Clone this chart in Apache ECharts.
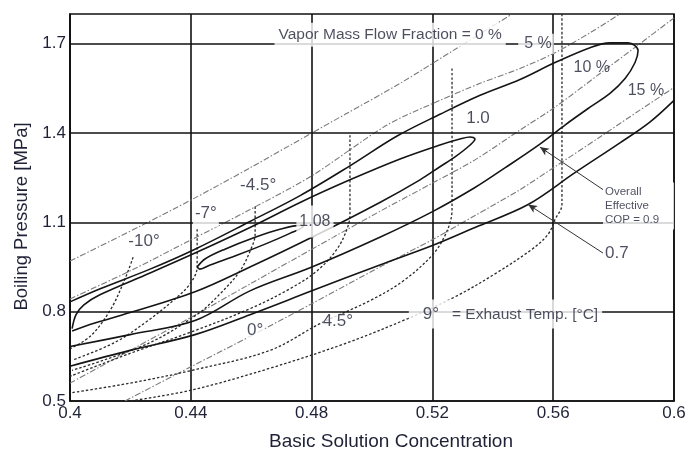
<!DOCTYPE html>
<html><head><meta charset="utf-8">
<script src="https://cdn.jsdelivr.net/npm/echarts@6/dist/echarts.min.js"></script>
<style>html,body{margin:0;padding:0;background:#fff}#c{width:690px;height:456px}</style>
</head><body><div id="c"></div>
<script>
// ---- axis ticks ----
const xTickValues = [0.4, 0.44, 0.48, 0.52, 0.56, 0.6];
const yTickValues = [0.5, 0.8, 1.1, 1.4, 1.7];

// ---- Overall Effective COP contours (solid) [concentration, pressure MPa] ----
const cop108 = [[0.4421,0.95],[0.4447,0.977],[0.4513,1.01],[0.4613,1.05],[0.4695,1.077],[0.4762,1.09],[0.4772,1.087],
  [0.4728,1.063],[0.4646,1.027],[0.4546,0.987],[0.4464,0.957],[0.443,0.943],[0.4421,0.95]];
const cop100 = [[0.4007,0.743],[0.402,0.79],[0.4046,0.823],[0.4099,0.857],[0.4265,0.93],[0.4414,0.997],[0.4596,1.083],
  [0.4762,1.167],[0.4927,1.243],[0.5093,1.313],[0.5225,1.36],[0.5291,1.38],[0.5325,1.387],[0.5341,1.38],
  [0.5325,1.36],[0.5275,1.32],[0.5225,1.287],[0.5159,1.243],[0.5026,1.167],[0.4801,1.05],[0.4596,0.95],
  [0.4414,0.867],[0.4199,0.797],[0.4066,0.757],[0.4007,0.735]];
const cop090 = [[0.400,0.833],[0.410,0.877],[0.4265,0.943],[0.4414,1.010],[0.4596,1.103],[0.4762,1.190],[0.4927,1.290],
  [0.5083,1.390],[0.5225,1.463],[0.5358,1.527],[0.549,1.580],[0.5606,1.637],[0.5722,1.687],[0.5788,1.703],
  [0.5848,1.703],[0.5881,1.677],[0.5871,1.637],[0.5838,1.583],[0.5788,1.533],[0.5722,1.487],[0.5639,1.427],
  [0.5556,1.363],[0.544,1.283],[0.5341,1.217],[0.5202,1.137],[0.5026,1.050],[0.4801,0.950],[0.4596,0.870],
  [0.4414,0.770],[0.4199,0.723],[0.400,0.683]];
const cop070 = [[0.400,0.617],[0.4199,0.67],[0.4414,0.723],[0.4596,0.79],[0.4801,0.87],[0.5026,0.957],[0.5202,1.023],
  [0.5341,1.083],[0.5517,1.16],[0.5672,1.267],[0.5821,1.367],[0.592,1.437],[0.600,1.51]];

// ---- Vapor mass flow fraction lines (dash-dot) ----
const vap0 = [[0.4,0.97],[0.4232,1.087],[0.4404,1.177],[0.4596,1.283],[0.4795,1.397],[0.4911,1.463],[0.5093,1.567],
  [0.5268,1.677],[0.5358,1.733],[0.5464,1.8]];
const vap5 = [[0.4,0.843],[0.4199,0.937],[0.4404,1.043],[0.4596,1.143],[0.4801,1.257],[0.505,1.427],[0.5225,1.51],
  [0.5358,1.567],[0.549,1.617],[0.5606,1.67],[0.5722,1.737],[0.5821,1.8]];
const vap10 = [[0.4,0.56],[0.4199,0.67],[0.4404,0.783],[0.4596,0.893],[0.4801,1.01],[0.5026,1.137],[0.5202,1.233],
  [0.5341,1.31],[0.549,1.41],[0.5606,1.487],[0.5755,1.6],[0.5887,1.7],[0.6,1.787]];
const vap15 = [[0.4182,0.5],[0.4404,0.617],[0.4596,0.717],[0.4801,0.827],[0.5026,0.95],[0.5202,1.043],[0.5341,1.123],
  [0.549,1.21],[0.5606,1.287],[0.5755,1.387],[0.5887,1.477],[0.6,1.553]];

// ---- Exhaust temperature lines (dotted) ----
const tm10 = [[0.4209,0.983],[0.4182,0.91],[0.4136,0.81],[0.407,0.72],[0.4003,0.677]];
const tm7 = [[0.4421,1.077],[0.4421,0.95],[0.4397,0.893],[0.4348,0.843],[0.4258,0.77],[0.4149,0.697],[0.4007,0.637]];
const tm45 = [[0.4613,1.153],[0.4613,1.06],[0.4596,1.003],[0.4563,0.937],[0.4497,0.86],[0.4424,0.793],[0.4258,0.693],[0.4007,0.603]];
const t0 = [[0.4927,1.393],[0.4927,1.127],[0.4917,1.077],[0.4884,1.01],[0.4818,0.937],[0.4728,0.877],[0.4596,0.81],
  [0.4404,0.733],[0.4199,0.66],[0.4,0.583]];
const t45 = [[0.5265,1.617],[0.5265,1.143],[0.5248,1.07],[0.5202,0.993],[0.5103,0.903],[0.4993,0.837],[0.4828,0.76],
  [0.4662,0.67],[0.4404,0.603],[0.4199,0.56],[0.4,0.527]];
const t9 = [[0.5629,1.8],[0.5629,1.16],[0.5606,1.11],[0.5583,1.06],[0.553,1.01],[0.5407,0.927],[0.5275,0.85],
  [0.5119,0.777],[0.4911,0.693],[0.4662,0.61],[0.4404,0.537],[0.4199,0.5]];

// ---- annotation texts and anchors ----
const annotations = [
  {text:'Vapor Mass Flow Fraction = 0 %', at:[0.506,1.73], kind:'title'},
  {text:'5 %', at:[0.5543,1.70], kind:'pct5'},
  {text:'10 %', at:[0.5728,1.62], kind:'plain'},
  {text:'15 %', at:[0.5907,1.543], kind:'plain'},
  {text:'1.0', at:[0.5351,1.45], kind:'num'},
  {text:'1.08', at:[0.4811,1.103], kind:'n108'},
  {text:'-4.5°', at:[0.4623,1.223], kind:'num'},
  {text:'-7°', at:[0.445,1.13], kind:'n7'},
  {text:'-10°', at:[0.4245,1.037], kind:'num'},
  {text:'0°', at:[0.4613,0.737], kind:'num'},
  {text:'4.5°', at:[0.4887,0.767], kind:'n45'},
  {text:'9°|   = Exhaust Temp. [°C]', at:[0.5442,0.792], kind:'exhaust'},
  {text:'Overall\nEffective\nCOP = 0.9', at:[0.5765,1.155], kind:'cop'},
  {text:'0.7', at:[0.5765,0.997], kind:'right'}
];
const arrows = [
  {from:[0.5765,1.21], to:[0.5556,1.353]},
  {from:[0.5765,0.997], to:[0.5517,1.16]}
];

const fam = '"Liberation Sans", Arial, Helvetica, sans-serif';
const txt = '#1f2236';
const base = {show:true, position:'inside', color:txt, fontFamily:fam, fontSize:17, lineHeight:17};
function labelFor(a){
  const k = a.kind;
  if (k==='title') return Object.assign({}, base, {formatter:a.text, fontSize:15.5, lineHeight:16, backgroundColor:'#fff', padding:[2,4,6,4]});
  if (k==='pct5') return Object.assign({}, base, {formatter:a.text, fontSize:16, lineHeight:16, backgroundColor:'#fff', padding:[2,2,2,6]});
  if (k==='plain') return Object.assign({}, base, {formatter:a.text, fontSize:16, lineHeight:16});
  if (k==='num') return Object.assign({}, base, {formatter:a.text, backgroundColor:'#fff', padding:[0,1,0,1]});
  if (k==='n108') return Object.assign({}, base, {formatter:a.text, fontSize:16, lineHeight:16, backgroundColor:'#fff', padding:[5,3,11,3]});
  if (k==='n7') return Object.assign({}, base, {formatter:a.text, backgroundColor:'#fff', padding:[5,2,6,2]});
  if (k==='n45') return Object.assign({}, base, {formatter:a.text, lineHeight:15, backgroundColor:'#fff', padding:0});
  if (k==='exhaust') {
    const p = a.text.split('|');
    return Object.assign({}, base, {formatter:'{a|'+p[0]+'}{b|'+p[1]+'}', lineHeight:18, backgroundColor:'#fff', padding:[6,4,5,14],
      rich:{a:{fontSize:17, color:txt, fontFamily:fam, lineHeight:18}, b:{fontSize:15.5, color:txt, fontFamily:fam, lineHeight:18}}});
  }
  if (k==='cop') return Object.assign({}, base, {formatter:a.text, position:'right', distance:0, align:'left', fontSize:11.5, lineHeight:14, backgroundColor:'#fff', padding:[2,15,3,2]});
  if (k==='right') return Object.assign({}, base, {formatter:a.text, position:'right', distance:0, padding:[0,0,0,2]});
}

function solid(name, data){
  return {name, type:'line', data, smooth:0.35, symbol:'none', z:3, silent:true,
    lineStyle:{color:'#151515', width:1.6}};
}
function dashdot(name, data){
  return {name, type:'line', data, smooth:0.3, symbol:'none', z:2, silent:true,
    lineStyle:{color:'#7a7a7a', width:1.1, type:[6,2,1.5,2]}};
}
function dotted(name, data){
  return {name, type:'line', data, smooth:0.35, symbol:'none', z:2, silent:true,
    lineStyle:{color:'#2a2a2a', width:1.3, type:[2.5,2]}};
}

const chart = echarts.init(document.getElementById('c'), null, {renderer:'canvas'});
chart.setOption({
  animation:false,
  backgroundColor:'#fff',
  grid:{left:70, right:16, top:14, bottom:52, show:true, borderColor:'#111', borderWidth:1.6, backgroundColor:'#fff'},
  xAxis:{type:'value', min:0.4, max:0.6, interval:0.04,
    name:'Basic Solution Concentration', nameLocation:'middle', nameGap:31,
    nameTextStyle:{color:txt, fontFamily:fam, fontSize:19, padding:[0,0,0,38]},
    axisLine:{show:true, lineStyle:{color:'#111', width:1.6}}, axisTick:{show:false},
    axisLabel:{color:txt, fontFamily:fam, fontSize:17, margin:4, formatter:v=>String(+v.toFixed(2))},
    splitLine:{show:true, lineStyle:{color:'#111', width:1.6}}},
  yAxis:{type:'value', min:0.5, max:1.8, interval:0.1,
    name:'Boiling Pressure [MPa]', nameLocation:'middle', nameGap:36, nameRotate:90,
    nameTextStyle:{color:txt, fontFamily:fam, fontSize:18.5, padding:[0,18,0,0]},
    axisLine:{show:true, lineStyle:{color:'#111', width:1.6}}, axisTick:{show:false},
    axisLabel:{color:txt, fontFamily:fam, fontSize:17, margin:4,
      formatter:v=>{const r=Math.round(v*10)/10; return yTickValues.indexOf(r)>=0 ? String(r) : '';}},
    splitLine:{show:false}},
  series:[
    {name:'grid', type:'line', data:[], z:1, silent:true,
      markLine:{silent:true, symbol:'none', label:{show:false}, animation:false,
        lineStyle:{color:'#111', width:1.6, type:'solid'},
        data:yTickValues.filter(v=>v>0.5).map(v=>({yAxis:v}))}},
    dashdot('0 %', vap0), dashdot('5 %', vap5), dashdot('10 %', vap10), dashdot('15 %', vap15),
    dotted('-10', tm10), dotted('-7', tm7), dotted('-4.5', tm45), dotted('0', t0), dotted('4.5', t45), dotted('9', t9),
    solid('COP 0.7', cop070), solid('COP 0.9', cop090), solid('COP 1.0', cop100), solid('COP 1.08', cop108),
    {name:'arrows', type:'line', data:[], z:4, silent:true,
      markLine:{silent:true, animation:false, symbol:['none','arrow'], symbolSize:[6,9], label:{show:false},
        lineStyle:{color:'#333', width:1, type:'solid'},
        data:arrows.map(a=>[{coord:a.from},{coord:a.to}])}},
    {name:'labels', type:'scatter', symbolSize:0, z:10, silent:true, clip:false,
      data:annotations.map(a=>({value:a.at, label:labelFor(a)}))}
  ]
});
</script></body></html>
